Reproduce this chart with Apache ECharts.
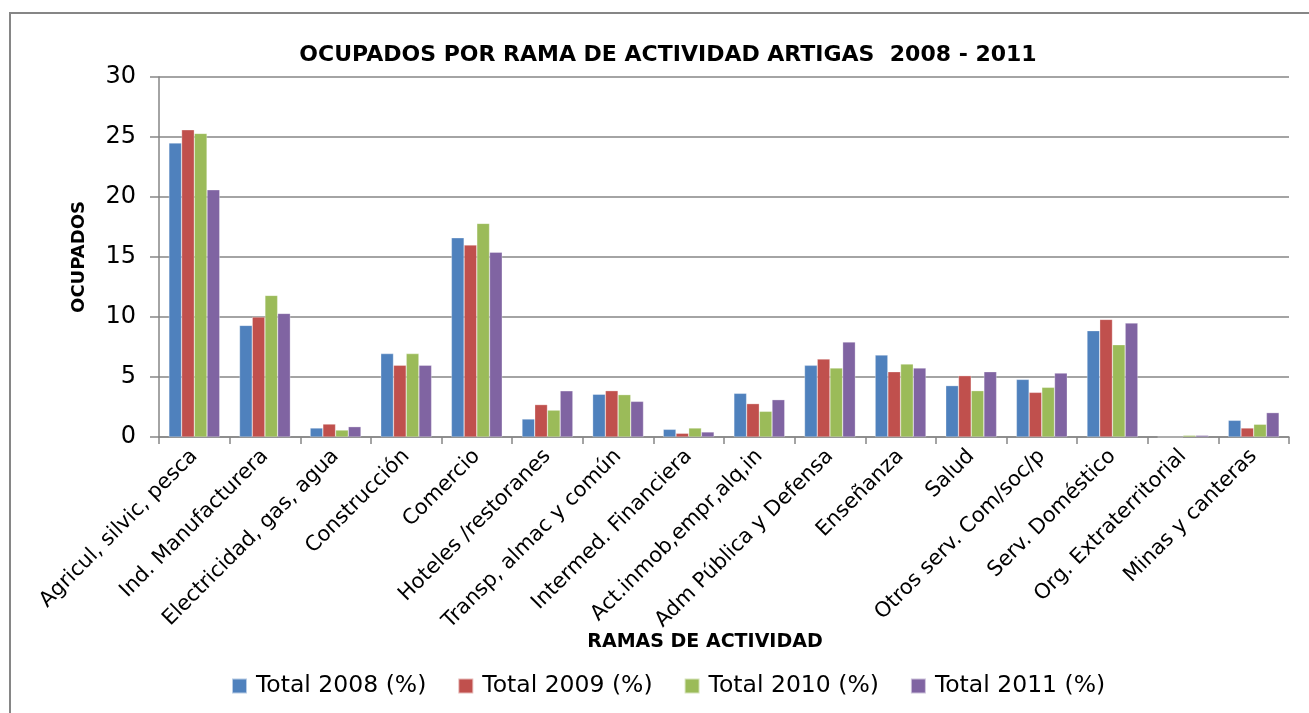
<!DOCTYPE html>
<html>
<head>
<meta charset="utf-8">
<script src="https://cdn.jsdelivr.net/npm/echarts@6/dist/echarts.min.js"></script>
<style>
  html, body { margin: 0; padding: 0; background: #fff; }
  #chart { width: 1309px; height: 713px; }
</style>
</head>
<body>
<div id="chart"></div>
<script>
let categories = [
  'Agricul, silvic, pesca', 'Ind. Manufacturera', 'Electricidad, gas, agua', 'Construcción',
  'Comercio', 'Hoteles /restoranes', 'Transp, almac y común', 'Intermed. Financiera',
  'Act.inmob,empr,alq,in', 'Adm Pública y Defensa', 'Enseñanza', 'Salud',
  'Otros serv. Com/soc/p', 'Serv. Doméstico', 'Org. Extraterritorial', 'Minas y canteras'
]
let total2008 = [24.5, 9.3, 0.75, 6.95, 16.6, 1.5, 3.56, 0.64, 3.64, 5.97, 6.83, 4.28, 4.8, 8.86, 0, 1.39]
let total2009 = [25.6, 10.0, 1.08, 5.98, 16.0, 2.7, 3.86, 0.31, 2.78, 6.5, 5.44, 5.11, 3.72, 9.8, 0, 0.75]
let total2010 = [25.3, 11.8, 0.58, 6.95, 17.8, 2.24, 3.53, 0.75, 2.14, 5.75, 6.08, 3.86, 4.14, 7.69, 0.14, 1.06]
let total2011 = [20.6, 10.3, 0.86, 5.98, 15.4, 3.85, 2.97, 0.42, 3.11, 7.92, 5.75, 5.44, 5.33, 9.5, 0.14, 2.03]
let seriesNames = ['Total 2008 (%)', 'Total 2009 (%)', 'Total 2010 (%)', 'Total 2011 (%)']
let colors = ['#4F81BD', '#C0504D', '#9BBB59', '#8064A2']

const font = 'DejaVu Sans'

function chart() {
  var chart = echarts.init(document.getElementById('chart'))
  let values = [total2008, total2009, total2010, total2011]

  let option = {
    animation: false,
    color: colors,
    title: {
      text: 'OCUPADOS POR RAMA DE ACTIVIDAD ARTIGAS  2008 - 2011',
      left: 663,
      textAlign: 'center',
      top: 39,
      textStyle: { fontFamily: font, fontWeight: 'bold', fontSize: 22, color: '#000' }
    },
    graphic: [{
      type: 'rect',
      shape: { x: 10, y: 13, width: 1330, height: 740 },
      style: { fill: 'none', stroke: '#868686', lineWidth: 2 },
      silent: true
    }],
    legend: {
      data: seriesNames,
      left: 226,
      top: 669,
      itemWidth: 15,
      itemHeight: 15,
      itemGap: 31,
      icon: 'rect',
      textStyle: { fontFamily: font, fontSize: 23.5, color: '#000', padding: [0, 0, 0, 4] }
    },
    grid: { left: 159, right: 20, top: 77, bottom: 276 },
    xAxis: {
      type: 'category',
      data: categories,
      name: 'RAMAS DE ACTIVIDAD',
      nameLocation: 'middle',
      nameGap: 196,
      nameMoveOverlap: false,
      nameTextStyle: { fontFamily: font, fontWeight: 'bold', fontSize: 19, color: '#000', padding: [0, 38, 0, 0] },
      axisLine: { lineStyle: { color: '#868686', width: 1.5 } },
      axisTick: { show: true, length: 7, lineStyle: { color: '#868686', width: 1.5 } },
      axisLabel: { rotate: 45, margin: 16, fontFamily: font, fontSize: 21, color: '#000', interval: 0 }
    },
    yAxis: {
      type: 'value',
      min: 0,
      max: 30,
      interval: 5,
      name: 'OCUPADOS',
      nameLocation: 'middle',
      nameGap: 71,
      nameRotate: 90,
      nameTextStyle: { fontFamily: font, fontWeight: 'bold', fontSize: 18, color: '#000' },
      axisLine: { show: true, lineStyle: { color: '#868686', width: 1.5 } },
      axisTick: { show: true, length: 9, lineStyle: { color: '#868686', width: 1.5 } },
      axisLabel: { margin: 23, fontFamily: font, fontSize: 24, color: '#000' },
      splitLine: { lineStyle: { color: '#868686', width: 1.5 } }
    },
    series: seriesNames.map((name, i) => ({
      name: name,
      type: 'bar',
      data: values[i],
      barGap: 0,
      barCategoryGap: '28%',
      itemStyle: { color: colors[i], borderColor: 'rgba(255,255,255,0.6)', borderWidth: 0.5 }
    }))
  }
  chart.setOption(option)
}

chart()
</script>
</body>
</html>
